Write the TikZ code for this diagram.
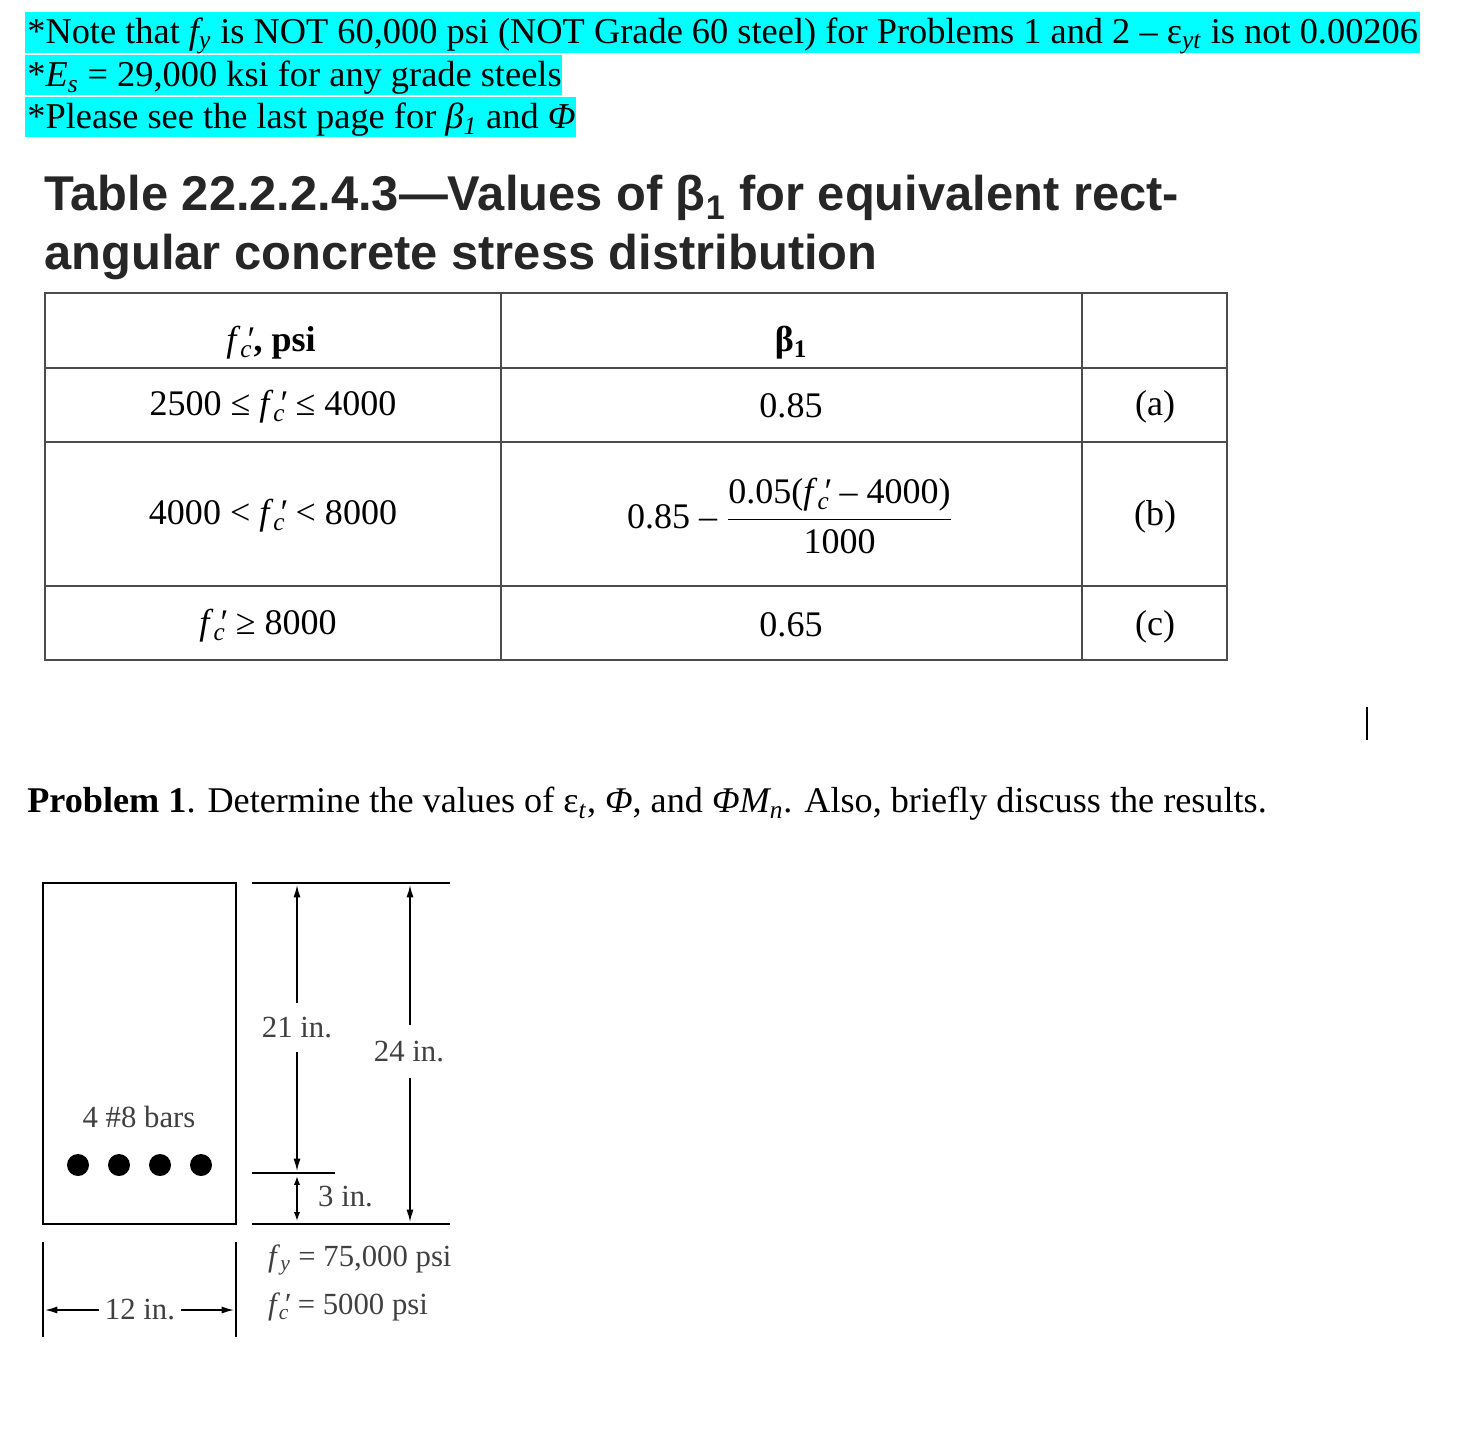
\documentclass[tikz,border=0pt]{standalone}
\usepackage{amsmath}
\usepackage{fontspec}
\setmainfont{Liberation Serif}
\newfontfamily\tsans{Liberation Sans}
\usetikzlibrary{arrows.meta}
\definecolor{hl}{HTML}{00FFFF}
\newcommand{\fcp}{\textit{f}\textsubscript{\textit{c}}\kern-0.2em\textit{′}}
\begin{document}
\begin{tikzpicture}[x=0.02cm,y=-0.02cm,
  hltxt/.style={anchor=west,inner sep=0pt,font=\fontsize{20.7}{22}\selectfont},
  tab/.style={font=\fontsize{20.5}{24}\selectfont},
  fig/.style={font=\fontsize{17.5}{20}\selectfont},
  dim/.style={-{Latex[length=7pt,width=4pt]},line width=0.8pt},
  tl/.style={line width=0.8pt,draw=black!70}]
\useasboundingbox (0,0) rectangle (1465,1428);
% highlights
\fill[hl] (25,12) rectangle (1420,53);
\fill[hl] (25,55) rectangle (562,95);
\fill[hl] (25,97) rectangle (576,137);
\node[hltxt] (n1) at (27,36) {*Note that \textit{f\textsubscript{y}} is NOT 60,000 psi (NOT Grade 60 steel) for Problems 1 and 2 -- ε\textsubscript{\textit{yt}} is not 0.00206};
\node[hltxt] (n2) at (27,78) {*\textit{E\textsubscript{s}} = 29,000 ksi for any grade steels};
\node[hltxt] (n3) at (27,120) {*Please see the last page for \textit{β\textsubscript{1}} and \textit{Φ}};
% title
\node[anchor=west,inner sep=0pt,font=\tsans\bfseries\fontsize{27.8}{30}\selectfont,text=black!85] (t1) at (44,198) {Table 22.2.2.4.3—Values of β\textsubscript{1} for equivalent rect-};
\node[anchor=west,inner sep=0pt,font=\tsans\bfseries\fontsize{27.8}{30}\selectfont,text=black!85] (t2) at (44,257) {angular concrete stress distribution};
% table
\draw[tl] (45,293) rectangle (1227,660);
\foreach \y in {368,442,586} \draw[tl] (45,\y) -- (1227,\y);
\foreach \x in {501,1082} \draw[tl] (\x,293) -- (\x,660);
\node[tab] (h1) at (271,343) {\fcp\textbf{, psi}};
\node[tab] (h2) at (791,343) {\textbf{β\textsubscript{1}}};
\node[tab] (r1) at (273,407) {2500 ≤ \fcp{} ≤ 4000};
\node[tab] (r2) at (273,516) {4000 < \fcp{} < 8000};
\node[tab] (r3) at (268,626) {\fcp{} ≥ 8000};
\node[tab] (v1) at (791,406) {0.85};
\node[tab] (v2) at (790,516) {0.85 -- $\dfrac{\text{0.05(\fcp{} -- 4000)}}{\text{1000}}$};
\node[tab] (v3) at (791,625) {0.65};
\node[tab] (a) at (1155,407) {(a)};
\node[tab] (b) at (1155,517) {(b)};
\node[tab] (c) at (1155,627) {(c)};
% cursor
\draw[line width=1pt] (1367,707) -- (1367,740);
% problem
\node[anchor=west,inner sep=0pt,font=\fontsize{20.6}{22}\selectfont] (p) at (27,804) {\textbf{Problem 1}. Determine the values of ε\textsubscript{\textit{t}}, \textit{Φ}, and \textit{ΦM\textsubscript{n}}. Also, briefly discuss the results.};
% beam figure
\draw[line width=1.6pt] (43,883) rectangle (236,1224);
\foreach \x in {78,119,160,201} \fill (\x,1165) circle (11);
\node[fig,text=black!75] (bars) at (139,1117) {4 \#8 bars};
\coordinate (ta) at (252,883); \coordinate (tb) at (450,883);
\coordinate (ba) at (252,1224); \coordinate (bb) at (450,1224);
\coordinate (ma) at (252,1173); \coordinate (mb) at (335,1173);
\draw[line width=1.3pt] (ta) -- (tb) (ba) -- (bb) (ma) -- (mb);
\node[fig,text=black!75] (d21) at (297,1028) {21 in.};
\node[fig,text=black!75] (d24) at (409,1052) {24 in.};
\node[fig,text=black!75,anchor=west] (d3) at (312,1197) {3 in.};
\draw[dim] (297,1003) -- (297,885);
\draw[dim] (297,1052) -- (297,1171);
\draw[dim] (410,1025) -- (410,885);
\draw[dim] (410,1078) -- (410,1222);
\draw[line width=0.8pt,-{Latex[length=5pt,width=3.5pt]}] (297,1198) -- (297,1176);
\draw[line width=0.8pt,-{Latex[length=5pt,width=3.5pt]}] (297,1198) -- (297,1221);
\draw[line width=1.3pt] (43,1242) -- (43,1337) (236,1242) -- (236,1337);
\node[fig,text=black!75] (d12) at (140,1310) {12 in.};
\draw[dim] (d12.west) -- (45,1310);
\draw[dim] (d12.east) -- (234,1310);
\node[fig,text=black!75,anchor=west] (fy) at (262,1260) {\textit{f}\textsubscript{\textit{y}} = 75,000 psi};
\node[fig,text=black!75,anchor=west] (fc) at (262,1307) {\textit{f}\kern-0.05em\textsubscript{\textit{c}}\kern-0.2em\textit{′} = 5000 psi};
\end{tikzpicture}
\end{document}
